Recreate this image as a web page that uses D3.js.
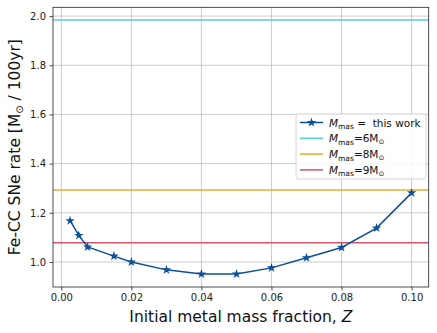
<!DOCTYPE html>
<html><head><meta charset="utf-8">
<script src="https://cdn.jsdelivr.net/npm/d3@7"></script>
<style>body{margin:0;background:#fff}svg{display:block;font-family:"DejaVu Sans",sans-serif}</style>
</head><body>
<script>
const zValues = [0.0025,0.005,0.0075,0.015,0.02,0.03,0.04,0.05,0.06,0.07,0.08,0.09,0.1];
const rateValues = [1.168,1.108,1.061,1.024,1.0,0.968,0.951,0.951,0.976,1.017,1.059,1.138,1.281];
const refLevels = [1.984,1.293,1.078];
const refLabels = ["6","8","9"];
const refColors = ["#5ac8f0","#e6ac3a","#d1566a"];
const xTicks = [0,0.02,0.04,0.06,0.08,0.10];
const yTicks = [1.0,1.2,1.4,1.6,1.8,2.0];

const W=437,H=333, L=53, R=428.7, T=7.3, B=287;
const svg=d3.select("body").append("svg").attr("width",W).attr("height",H);
const x=d3.scaleLinear().domain([-0.00238,0.10488]).range([L,R]);
const y=d3.scaleLinear().domain([0.8983,2.0357]).range([B,T]);

const g=svg.append("g");
// grid
g.selectAll(".gx").data(xTicks).join("line").attr("x1",d=>x(d)).attr("x2",d=>x(d)).attr("y1",T).attr("y2",B).attr("stroke","#b0b0b0").attr("stroke-opacity",0.7).attr("stroke-width",0.9);
g.selectAll(".gy").data(yTicks).join("line").attr("y1",d=>y(d)).attr("y2",d=>y(d)).attr("x1",L).attr("x2",R).attr("stroke","#b0b0b0").attr("stroke-opacity",0.7).attr("stroke-width",0.9);

// ref lines
g.selectAll(".ref").data(refLevels).join("line").attr("x1",L).attr("x2",R).attr("y1",d=>y(d)).attr("y2",d=>y(d)).attr("stroke",(d,i)=>refColors[i]).attr("stroke-width",1.5);

// main line
const line=d3.line().x((d,i)=>x(zValues[i])).y(d=>y(d));
const blue="#0b4f97";
g.append("path").datum(rateValues).attr("d",line).attr("fill","none").attr("stroke",blue).attr("stroke-width",1.5);
const star=d3.symbol().type(d3.symbolStar).size(28);
g.selectAll(".pt").data(rateValues).join("path").attr("d",star).attr("transform",(d,i)=>`translate(${x(zValues[i])},${y(d)})`).attr("fill",blue);

// axes
const xa=svg.append("g").attr("transform",`translate(0,${B})`).call(d3.axisBottom(x).tickValues(xTicks).tickFormat(d3.format(".2f")).tickSize(3.5).tickPadding(3.5));
const ya=svg.append("g").attr("transform",`translate(${L},0)`).call(d3.axisLeft(y).tickValues(yTicks).tickFormat(d3.format(".1f")).tickSize(3.5).tickPadding(3.5));
[xa,ya].forEach(a=>{a.select(".domain").remove();a.selectAll("text").attr("font-size",10).attr("fill","#222").attr("font-family","DejaVu Sans");a.selectAll("line").attr("stroke","#222").attr("stroke-width",0.8);});
svg.append("rect").attr("x",L).attr("y",T).attr("width",R-L).attr("height",B-T).attr("fill","none").attr("stroke","#222").attr("stroke-width",0.8);

// labels
const xl=svg.append("text").attr("x",(L+R)/2).attr("y",322).attr("text-anchor","middle").attr("font-size",15.5).attr("fill","#111");
xl.append("tspan").text("Initial metal mass fraction, ");
xl.append("tspan").attr("font-style","italic").text("Z");
const yl=svg.append("text").attr("transform",`translate(20,${(T+B)/2}) rotate(-90)`).attr("text-anchor","middle").attr("font-size",15.5).attr("fill","#111");
yl.append("tspan").text("Fe-CC SNe rate [M");
yl.append("tspan").attr("font-size",10).attr("dy",3).text("⊙");
yl.append("tspan").attr("dy",-3).text(" / 100yr]");

// legend
const lg=svg.append("g");
lg.append("rect").attr("x",296).attr("y",114).attr("width",130).attr("height",65).attr("rx",2.5).attr("fill","#fff").attr("fill-opacity",0.85).attr("stroke","#ccc").attr("stroke-width",0.8);
const rows=[{c:blue,star:true,t:"= this work"}].concat(refLabels.map((l,i)=>({c:refColors[i],t:"="+l})));
rows.forEach((r,i)=>{
  const cy=122.5+i*15.8;
  lg.append("line").attr("x1",300).attr("x2",323).attr("y1",cy).attr("y2",cy).attr("stroke",r.c).attr("stroke-width",1.5);
  if(r.star) lg.append("path").attr("d",star).attr("transform",`translate(311.5,${cy})`).attr("fill",r.c);
  const t=lg.append("text").attr("x",329).attr("y",cy+4).attr("font-size",10.5).attr("fill","#111");
  t.append("tspan").attr("font-style","italic").text("M");
  t.append("tspan").attr("font-size",7.5).attr("dy",2.5).text("mas");
  if(r.star){ t.append("tspan").attr("dy",-2.5).text("\u00a0=\u00a0\u00a0this work"); }
  else { t.append("tspan").attr("dy",-2.5).text(r.t+"M"); t.append("tspan").attr("font-size",7).attr("dy",2).text("⊙"); }
});
</script>
</body></html>
